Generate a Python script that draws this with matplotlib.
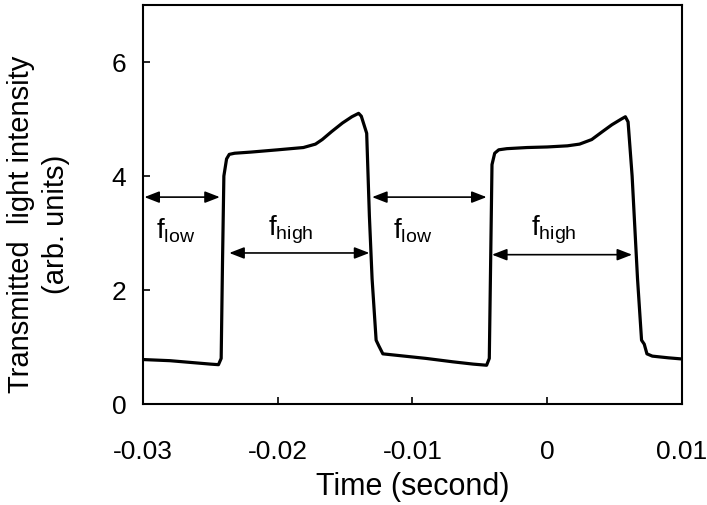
import matplotlib.pyplot as plt

# ----------------------------
# data
# ----------------------------
time = [-0.0300, -0.0290, -0.0280, -0.0270, -0.0260, -0.0250, -0.0244, -0.0242,
        -0.0241, -0.0240, -0.0238, -0.0236, -0.0232, -0.0220, -0.0200, -0.0181,
        -0.0172, -0.0167, -0.0160, -0.0152, -0.0145, -0.0140, -0.0138, -0.0134,
        -0.0132, -0.0130, -0.0127, -0.0125, -0.0122, -0.0110, -0.0090, -0.0070,
        -0.0055, -0.0045, -0.0043, -0.0042, -0.0041, -0.0039, -0.0036, -0.0030,
        -0.0015, 0.0000, 0.0015, 0.0024, 0.0033, 0.0041, 0.0048, 0.0055, 0.0058,
        0.0060, 0.0063, 0.0067, 0.0070, 0.0072, 0.0074, 0.0078, 0.0090, 0.0100]
intensity = [0.78, 0.77, 0.76, 0.74, 0.72, 0.70, 0.69, 0.80,
             2.50, 4.00, 4.30, 4.38, 4.40, 4.42, 4.46, 4.50,
             4.56, 4.64, 4.78, 4.93, 5.04, 5.10, 5.05, 4.75,
             3.30, 2.20, 1.12, 1.02, 0.88, 0.85, 0.80, 0.74,
             0.70, 0.68, 0.80, 2.50, 4.20, 4.40, 4.46, 4.48,
             4.50, 4.51, 4.53, 4.56, 4.64, 4.78, 4.90, 5.00, 5.04,
             4.95, 4.00, 2.20, 1.12, 1.05, 0.88, 0.84, 0.81, 0.79]

# arrows: (start, end, y, label, label_x, label_y)
arrows = [
    (-0.0299, -0.0243, 3.63, r"f$_{\rm low}$", -0.0276, 3.05),
    (-0.0236, -0.0132, 2.65, r"f$_{\rm high}$", -0.0190, 3.05),
    (-0.0130, -0.0045, 3.63, r"f$_{\rm low}$", -0.0100, 3.05),
    (-0.0041, 0.0063, 2.62, r"f$_{\rm high}$", 0.0005, 3.05),
]

plt.rcParams['font.family'] = ['Liberation Sans', 'DejaVu Sans']
plt.rcParams['mathtext.fontset'] = 'custom'
plt.rcParams['mathtext.rm'] = 'Liberation Sans'

fig = plt.figure(figsize=(7.07, 5.05), dpi=100)
ax = fig.add_axes([0.2023, 0.2, 0.7623, 0.79])

ax.plot(time, intensity, color="black", linewidth=2.3, solid_joinstyle="round")

for x0, x1, y, lab, lx, ly in arrows:
    ax.annotate("", xy=(x1, y), xytext=(x0, y),
                arrowprops=dict(arrowstyle="<|-|>,head_length=0.9,head_width=0.35",
                                color="black", lw=1.2, shrinkA=0, shrinkB=0))
    ax.text(lx, ly, lab, fontsize=20, ha="center", va="center")

ax.set_xlim(-0.03, 0.0098)
ax.set_ylim(0, 7)
ax.set_xticks([-0.03, -0.02, -0.01, 0, 0.01])
ax.set_xticklabels(["-0.03", "-0.02", "-0.01", "0", "0.01"])
ax.set_yticks([0, 2, 4, 6])
ax.tick_params(direction="in", length=5, width=1.2, labelsize=19)
ax.tick_params(axis="x", pad=26)
ax.tick_params(axis="y", pad=12)
for sp in ax.spines.values():
    sp.set_linewidth(1.5)

ax.set_xlabel("Time (second)", fontsize=22, labelpad=6)
ax.set_ylabel("Transmitted  light intensity\n(arb. units)", fontsize=21,
              linespacing=1.35)
ax.yaxis.set_label_coords(-0.135, 0.45)

plt.savefig("out.png", dpi=100)
